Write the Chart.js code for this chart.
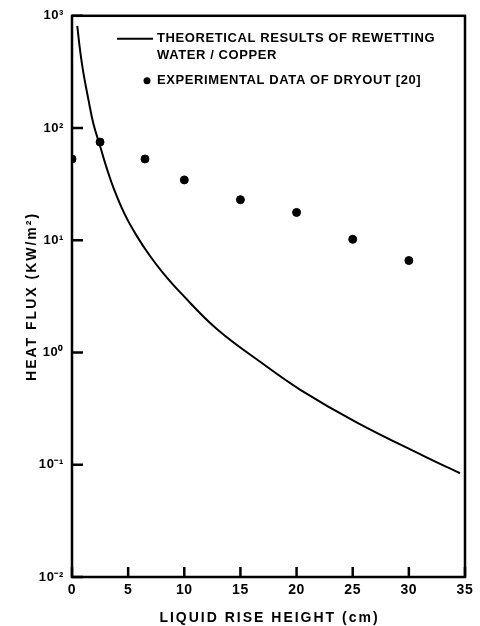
<!DOCTYPE html>
<html>
<head>
<meta charset="utf-8">
<script src="https://cdn.jsdelivr.net/npm/chart.js@4/dist/chart.umd.min.js"></script>
<style>
  html, body { margin: 0; padding: 0; background: #fff; }
  #wrap { width: 480px; height: 626px; position: relative; }
</style>
</head>
<body>
<div id="wrap"><canvas id="c" width="480" height="626"></canvas></div>
<script>
// ---- data ----
const curveX = [0.47, 0.71, 1.0, 1.45, 1.9, 2.5, 3.1, 3.8, 4.7, 5.75, 6.95, 8.1, 9.6, 12.9, 17.0, 20.3, 25.3, 31.3, 34.55];
const curveY = [813, 501, 316, 182, 110, 69.2, 43.7, 27.5, 17.0, 11.0, 7.24, 5.13, 3.47, 1.62, 0.794, 0.468, 0.240, 0.120, 0.084];
const dryoutX = [0, 2.5, 6.5, 10, 15, 20, 25, 30];
const dryoutY = [53, 75, 53, 34.5, 23, 17.7, 10.2, 6.6];
const xTicks = [0, 5, 10, 15, 20, 25, 30, 35];
const yTicks = [0.01, 0.1, 1, 10, 100, 1000];
const yTickLabels = ['10\u207B\u00B2', '10\u207B\u00B9', '10\u2070', '10\u00B9', '10\u00B2', '10\u00B3'];
const legendLine1 = 'THEORETICAL RESULTS OF REWETTING';
const legendLine2 = 'WATER / COPPER';
const legendPoints = 'EXPERIMENTAL DATA OF DRYOUT [20]';
const xTitle = 'LIQUID RISE HEIGHT (cm)';
const yTitle = 'HEAT FLUX (KW/m\u00B2)';

const FONT = "'Liberation Sans', Arial, sans-serif";

const framePlugin = {
  id: 'frame',
  beforeDraw(chart) {
    chart.ctx.letterSpacing = '0.6px';
  },
  afterDraw(chart) {
    const {ctx, chartArea: a, scales} = chart;
    ctx.save();
    ctx.strokeStyle = '#000';
    ctx.lineWidth = 2.5;
    ctx.strokeRect(a.left, a.top, a.right - a.left, a.bottom - a.top);
    // inward tick marks
    ctx.beginPath();
    xTicks.forEach(v => {
      const px = scales.x.getPixelForValue(v);
      ctx.moveTo(px, a.bottom);
      ctx.lineTo(px, a.bottom - 10);
    });
    yTicks.forEach(v => {
      const py = scales.y.getPixelForValue(v);
      ctx.moveTo(a.left, py);
      ctx.lineTo(a.left + 11, py);
    });
    ctx.stroke();
    // legend
    const lx = a.left + 45, ly = a.top + 23;
    ctx.lineWidth = 2;
    ctx.beginPath();
    ctx.moveTo(lx, ly);
    ctx.lineTo(lx + 36, ly);
    ctx.stroke();
    ctx.fillStyle = '#000';
    ctx.font = 'bold 13px ' + FONT;
    ctx.letterSpacing = '0.6px';
    ctx.textBaseline = 'middle';
    ctx.textAlign = 'left';
    ctx.fillText(legendLine1, lx + 40, ly);
    ctx.fillText(legendLine2, lx + 40, ly + 17);
    ctx.beginPath();
    ctx.arc(lx + 30, ly + 42, 3.5, 0, Math.PI * 2);
    ctx.fill();
    ctx.fillText(legendPoints, lx + 40, ly + 42);
    // axis titles
    ctx.font = 'bold 14px ' + FONT;
    ctx.letterSpacing = '2px';
    ctx.textAlign = 'center';
    ctx.fillText(xTitle, (a.left + a.right) / 2 + 1, chart.height - 8);
    ctx.save();
    ctx.translate(32, (a.top + a.bottom) / 2);
    ctx.rotate(-Math.PI / 2);
    ctx.letterSpacing = '2px';
    ctx.fillText(yTitle, 0, 0);
    ctx.restore();
    ctx.restore();
  }
};

new Chart(document.getElementById('c'), {
  type: 'scatter',
  data: {
    datasets: [
      {
        label: 'theory',
        type: 'line',
        data: curveX.map((x, i) => ({x, y: curveY[i]})),
        borderColor: '#000',
        borderWidth: 2,
        pointRadius: 0,
        fill: false,
        tension: 0.4
      },
      {
        label: 'dryout',
        data: dryoutX.map((x, i) => ({x, y: dryoutY[i]})),
        backgroundColor: '#000',
        borderColor: '#000',
        pointRadius: 4,
        showLine: false
      }
    ]
  },
  options: {
    responsive: false,
    animation: false,
    layout: { padding: { top: 15, right: 15, left: 0, bottom: 0 } },
    plugins: { legend: { display: false }, tooltip: { enabled: false } },
    scales: {
      x: {
        type: 'linear',
        min: 0, max: 35,
        afterBuildTicks: s => { s.ticks = xTicks.map(v => ({value: v})); },
        afterFit: s => { s.height = 49; },
        grid: { display: false, drawTicks: false },
        border: { display: false },
        ticks: { color: '#000', padding: 5, font: { family: FONT, size: 14, weight: 'bold' } }
      },
      y: {
        type: 'logarithmic',
        min: 0.01, max: 1000,
        afterBuildTicks: s => { s.ticks = yTicks.map(v => ({value: v})); },
        afterFit: s => { s.width = 72; },
        grid: { display: false, drawTicks: false },
        border: { display: false },
        ticks: {
          color: '#000', padding: 8,
          font: { family: FONT, size: 13, weight: 'bold' },
          callback: (v) => { const i = yTicks.findIndex(t => Math.abs(t - v) / t < 1e-6); return i >= 0 ? yTickLabels[i] : ''; }
        }
      }
    }
  },
  plugins: [framePlugin]
});
</script>
</body>
</html>
